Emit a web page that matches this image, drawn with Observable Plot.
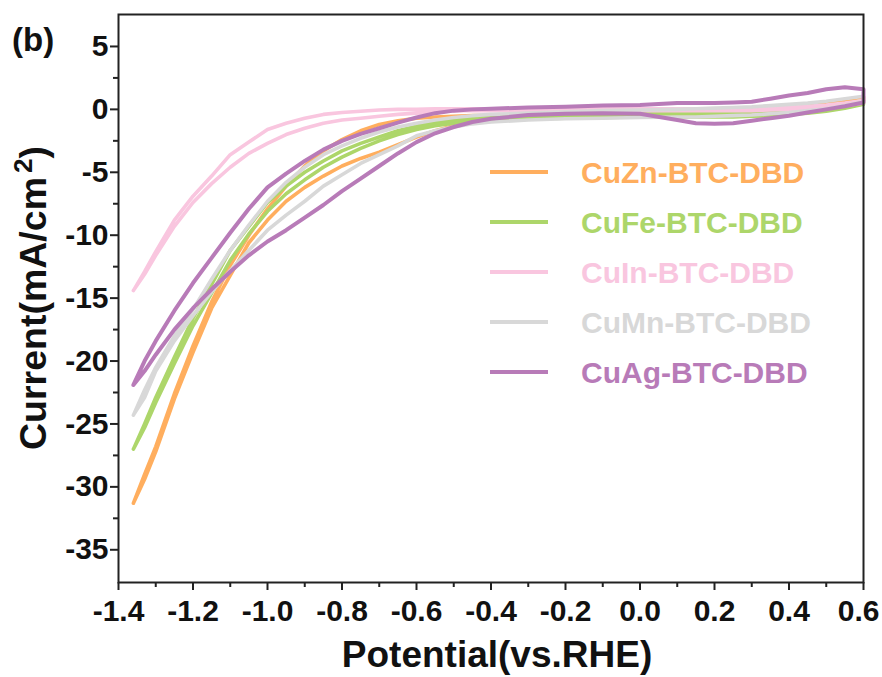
<!DOCTYPE html>
<html>
<head>
<meta charset="utf-8">
<script src="https://cdn.jsdelivr.net/npm/d3@7"></script>
<script src="https://cdn.jsdelivr.net/npm/@observablehq/plot@0.6"></script>
<style>
  html, body { margin: 0; padding: 0; background: #fff; }
  #chart { width: 882px; height: 677px; }
</style>
</head>
<body>
<div id="chart"></div>
<script>
// ---- data ----
const potential = [-1.36,-1.33,-1.3,-1.25,-1.2,-1.15,-1.1,-1.05,-1.0,-0.95,-0.9,-0.85,-0.8,-0.75,-0.7,-0.65,-0.6,-0.55,-0.5,-0.45,-0.4,-0.3,-0.2,-0.1,0,0.1,0.15,0.2,0.25,0.3,0.35,0.4,0.45,0.5,0.55,0.6];

const seriesNames = ["CuZn-BTC-DBD","CuFe-BTC-DBD","CuIn-BTC-DBD","CuMn-BTC-DBD","CuAg-BTC-DBD"];
const seriesColors = ["#FFAE5E","#ADD66A","#F9C6DF","#D8D8D8","#B87BB8"];

// forward scan (cathodic -> anodic) and reverse scan, on the same potential grid
const cuZnFwd = [-31.3,-29.0,-26.8,-22.6,-18.8,-15.3,-12.4,-10.0,-7.9,-6.1,-4.5,-3.3,-2.4,-1.7,-1.2,-0.9,-0.7,-0.6,-0.55,-0.5,-0.5,-0.45,-0.4,-0.4,-0.35,-0.3,-0.3,-0.25,-0.2,-0.15,-0.05,0.1,0.25,0.45,0.7,1.0];
const cuZnRev = [-31.3,-29.4,-27.2,-23.0,-19.3,-15.8,-13.2,-10.6,-8.8,-7.3,-6.2,-5.3,-4.5,-3.9,-3.4,-2.8,-2.2,-1.7,-1.3,-1.0,-0.8,-0.6,-0.55,-0.5,-0.45,-0.45,-0.45,-0.45,-0.45,-0.45,-0.4,-0.3,-0.15,0.0,0.3,0.7];
const cuFeFwd = [-27.0,-25.0,-22.9,-19.7,-16.6,-13.9,-11.2,-9.3,-7.4,-6.1,-5.0,-4.1,-3.3,-2.7,-2.2,-1.7,-1.35,-1.05,-0.85,-0.7,-0.6,-0.5,-0.45,-0.4,-0.35,-0.3,-0.3,-0.3,-0.25,-0.2,-0.1,0.0,0.1,0.25,0.45,0.7];
const cuFeRev = [-27.0,-25.3,-23.3,-20.2,-17.2,-14.6,-12.0,-9.9,-8.1,-6.7,-5.6,-4.6,-3.8,-3.1,-2.5,-2.0,-1.6,-1.3,-1.1,-0.95,-0.85,-0.75,-0.7,-0.65,-0.6,-0.6,-0.6,-0.6,-0.6,-0.55,-0.5,-0.4,-0.3,-0.15,0.1,0.4];
const cuInFwd = [-14.4,-12.9,-11.3,-8.8,-6.9,-5.3,-3.6,-2.6,-1.6,-1.1,-0.7,-0.4,-0.25,-0.15,-0.05,0.0,0.0,0.05,0.05,0.05,0.05,0.05,0.05,0.05,0.05,0.05,0.05,0.05,0.08,0.1,0.15,0.2,0.25,0.35,0.5,0.7];
const cuInRev = [-14.4,-13.1,-11.6,-9.3,-7.4,-5.9,-4.6,-3.5,-2.7,-2.0,-1.5,-1.1,-0.85,-0.7,-0.55,-0.4,-0.3,-0.2,-0.1,-0.1,-0.1,-0.1,-0.1,-0.1,-0.1,-0.1,-0.1,-0.1,-0.1,-0.1,-0.05,0.0,0.05,0.15,0.3,0.5];
const cuMnFwd = [-24.3,-22.3,-20.5,-18.0,-15.9,-13.5,-11.2,-9.2,-7.3,-5.8,-4.6,-3.6,-2.9,-2.3,-1.8,-1.4,-1.1,-0.85,-0.65,-0.5,-0.4,-0.3,-0.2,-0.1,-0.05,0.0,0.05,0.1,0.15,0.2,0.3,0.4,0.5,0.65,0.85,1.05];
const cuMnRev = [-24.3,-22.9,-20.8,-18.4,-16.4,-14.5,-12.8,-11.2,-9.6,-8.4,-7.3,-6.1,-5.2,-4.3,-3.6,-2.9,-2.1,-1.7,-1.4,-1.15,-1.0,-0.85,-0.75,-0.7,-0.65,-0.6,-0.6,-0.55,-0.5,-0.45,-0.35,-0.25,-0.1,0.05,0.3,0.6];
const cuAgFwd = [-21.9,-20.0,-18.4,-16.0,-13.8,-11.8,-9.8,-7.9,-6.2,-5.1,-4.1,-3.2,-2.5,-1.95,-1.5,-1.05,-0.65,-0.3,-0.1,0.0,0.05,0.15,0.2,0.3,0.35,0.5,0.5,0.5,0.55,0.6,0.85,1.1,1.3,1.6,1.75,1.6];
const cuAgRev = [-21.9,-20.8,-19.5,-17.5,-15.8,-14.3,-12.9,-11.6,-10.5,-9.6,-8.6,-7.6,-6.5,-5.5,-4.5,-3.5,-2.6,-1.9,-1.4,-1.0,-0.75,-0.45,-0.35,-0.3,-0.35,-0.85,-1.1,-1.15,-1.1,-0.9,-0.7,-0.5,-0.25,0.0,0.25,0.55];

const xTicks = [-1.4,-1.2,-1.0,-0.8,-0.6,-0.4,-0.2,0,0.2,0.4,0.6];
const xMinorTicks = [-1.3,-1.1,-0.9,-0.7,-0.5,-0.3,-0.1,0.1,0.3,0.5];
const yTicks = [5,0,-5,-10,-15,-20,-25,-30,-35];
const yMinorTicks = [2.5,-2.5,-7.5,-12.5,-17.5,-22.5,-27.5,-32.5];

// ---- build loops ----
function loop(name, fwd, rev) {
  const pts = potential.map((p, i) => ({series: name, E: p, J: fwd[i]}));
  for (let i = potential.length - 1; i >= 0; i--) pts.push({series: name, E: potential[i], J: rev[i]});
  return pts;
}
const loops = [
  loop(seriesNames[0], cuZnFwd, cuZnRev),
  loop(seriesNames[1], cuFeFwd, cuFeRev),
  loop(seriesNames[2], cuInFwd, cuInRev),
  loop(seriesNames[3], cuMnFwd, cuMnRev),
  loop(seriesNames[4], cuAgFwd, cuAgRev)
];
const widths = [3.6, 3.6, 3.6, 3.6, 4];

const svg = Plot.plot({
  width: 882,
  height: 677,
  marginLeft: 118,
  marginRight: 19,
  marginTop: 14,
  marginBottom: 95,
  style: {fontFamily: "'Liberation Sans', Arial, sans-serif", fontWeight: "bold", color: "#111", background: "#fff"},
  x: {domain: [-1.4, 0.6]},
  y: {domain: [-37.6, 7.54]},
  marks: [
    ...loops.map((d, i) => Plot.line(d, {x: "E", y: "J", stroke: seriesColors[i], strokeWidth: widths[i], curve: "linear", strokeLinejoin: "round"})),
    Plot.frame({stroke: "#222", strokeWidth: 2}),
    Plot.axisX({ticks: xTicks, tickSize: 8, tickPadding: 9, tickFormat: d => d.toFixed(1), fontSize: 30, strokeWidth: 2, stroke: "#222", label: null}),
    Plot.axisX({ticks: xMinorTicks, tickSize: 5, text: null, strokeWidth: 2, stroke: "#222", label: null}),
    Plot.axisY({ticks: yTicks, tickSize: 8, tickPadding: 2, tickFormat: d => String(d), fontSize: 30, strokeWidth: 2, stroke: "#222", label: null}),
    Plot.axisY({ticks: yMinorTicks, tickSize: 5, text: null, strokeWidth: 2, stroke: "#222", label: null})
  ]
});

const s = d3.select(svg);
const font = "'Liberation Sans', Arial, sans-serif";

// keep the last x tick label inside the picture
s.selectAll("text").filter(function() { return this.textContent === "0.6"; })
  .attr("text-anchor", "end").attr("dx", 16);

// axis titles
s.append("text")
  .attr("x", 497).attr("y", 667)
  .attr("text-anchor", "middle")
  .attr("font-family", font).attr("font-weight", "bold").attr("font-size", 37).attr("fill", "#111")
  .text("Potential(vs.RHE)");

const yt = s.append("text")
  .attr("transform", "translate(46,298) rotate(-90)")
  .attr("text-anchor", "middle")
  .attr("font-family", font).attr("font-weight", "bold").attr("font-size", 37.5).attr("fill", "#111");
yt.append("tspan").text("Current(mA/cm");
yt.append("tspan").attr("font-size", 26).attr("dy", -14).attr("dx", 4).text("2");
yt.append("tspan").attr("dy", 14).text(")");

// panel label
s.append("text")
  .attr("x", 12).attr("y", 51)
  .attr("text-anchor", "start")
  .attr("font-family", font).attr("font-weight", "bold").attr("font-size", 33).attr("fill", "#111")
  .text("(b)");

// legend
seriesNames.forEach((name, i) => {
  const y = 172 + i * 50;
  s.append("line").attr("x1", 490).attr("x2", 548).attr("y1", y).attr("y2", y)
    .attr("stroke", seriesColors[i]).attr("stroke-width", 4);
  s.append("text").attr("x", 581).attr("y", y).attr("dy", "0.36em")
    .attr("text-anchor", "start")
    .attr("font-family", font).attr("font-weight", "bold").attr("font-size", 30)
    .attr("fill", seriesColors[i]).text(name);
});

document.getElementById("chart").appendChild(svg);
</script>
</body>
</html>
